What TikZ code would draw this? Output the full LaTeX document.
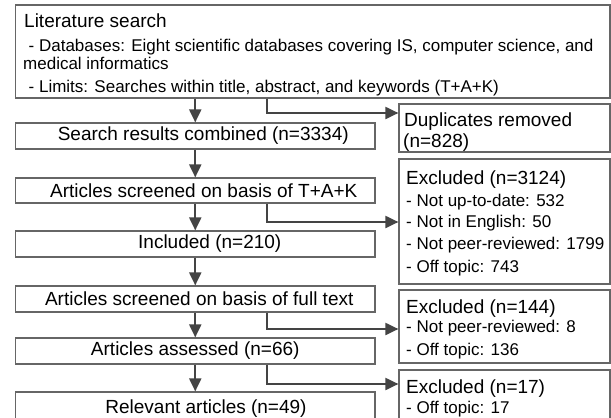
\documentclass[tikz,border=0pt]{standalone}
\usepackage{fontspec}
\setmainfont{Liberation Sans}
\usetikzlibrary{arrows.meta}
\definecolor{boxline}{HTML}{666666}
\definecolor{arrline}{HTML}{444444}
\tikzset{
  box/.style={draw=boxline, line width=1.2pt, inner sep=0pt, anchor=center,
    font=\fontsize{19}{22}\selectfont},
  lbox/.style={box, minimum width=359.5pt},
  rbox/.style={box, minimum width=211pt},
  ttl/.style={anchor=base west, inner sep=0pt, font=\fontsize{19}{22}\selectfont},
  itm/.style={anchor=base west, inner sep=0pt, font=\fontsize{17}{20}\selectfont},
  flow/.style={draw=arrline, line width=2pt,
    -{Triangle[length=13pt,width=12pt]}, color=arrline},
}
\begin{document}
\begin{tikzpicture}[x=1pt,y=-1pt]
\useasboundingbox (0,0) rectangle (611,418);
\clip (0,0) rectangle (611,418);
\fill[white] (0,0) rectangle (611,418);

% literature search box
\node[box, minimum width=594.5pt, minimum height=93pt] (lit) at (312.75,51.5) {};
\node[ttl] (litt) at (24,27) {Literature search};
\node[itm] (lit1) at (28.5,51) {- Databases: Eight scientific databases covering IS, computer science, and};
\node[itm] (lit2) at (23,69.5) {medical informatics};
\node[itm] (lit3) at (28.5,92) {- Limits: Searches within title, abstract, and keywords (T+A+K)};

% left column
\node[lbox, minimum height=26pt] (sr) at (195.25,136) {\hspace*{16pt}Search results combined (n=3334)};
\node[lbox, minimum height=25pt] (tak) at (195.25,190.5) {\hspace*{17pt}Articles screened on basis of T+A+K};
\node[lbox, minimum height=26pt] (inc) at (195.25,244) {\hspace*{29pt}Included (n=210)};
\node[lbox, minimum height=26pt] (ft) at (195.25,299) {\hspace*{8pt}Articles screened on basis of full text};
\node[lbox, minimum height=26pt] (as) at (195.25,351) {Articles assessed (n=66)};
\node[lbox, minimum height=38pt] (rel) at (195.25,411) {};
\node[ttl, anchor=base] (relt) at (206,413) {Relevant articles (n=49)};

% right column
\node[rbox, minimum height=48pt] (dup) at (504.5,128) {};
\node[ttl] (dupt) at (404,126) {Duplicates removed};
\node[ttl] (dup1) at (403,147.5) {(n=828)};

\node[rbox, minimum height=125pt] (ex1) at (504.5,221.5) {};
\node[ttl] (ex1t) at (406,184.5) {Excluded (n=3124)};
\node[itm] (ex1a) at (406,206) {- Not up-to-date: 532};
\node[itm] (ex1b) at (406,227.5) {- Not in English: 50};
\node[itm] (ex1c) at (406,249.5) {- Not peer-reviewed: 1799};
\node[itm] (ex1d) at (406,272) {- Off topic: 743};

\node[rbox, minimum height=73pt] (ex2) at (504.5,326.5) {};
\node[ttl] (ex2t) at (406,313.5) {Excluded (n=144)};
\node[itm] (ex2a) at (406,332.5) {- Not peer-reviewed: 8};
\node[itm] (ex2b) at (406,355) {- Off topic: 136};

\node[rbox, minimum height=60pt] (ex3) at (504.5,400) {};
\node[ttl] (ex3t) at (406,393) {Excluded (n=17)};
\node[itm] (ex3a) at (406,413) {- Off topic: 17};

% vertical arrows
\draw[flow] (lit.south -| sr.center) -- (sr.north);
\draw[flow] (sr.south) -- (tak.north);
\draw[flow] (tak.south) -- (inc.north);
\draw[flow] (inc.south) -- (ft.north);
\draw[flow] (ft.south) -- (as.north);
\draw[flow] (as.south) -- (rel.north);

% bent arrows
\coordinate (bx) at (267,0);
\draw[flow] (lit.south -| bx) |- (dup.west |- 0,113);
\draw[flow] (tak.south -| bx) |- (ex1.west |- 0,222);
\draw[flow] (ft.south -| bx) |- (ex2.west |- 0,329);
\draw[flow] (as.south -| bx) |- (ex3.west |- 0,384);
\end{tikzpicture}
\end{document}
